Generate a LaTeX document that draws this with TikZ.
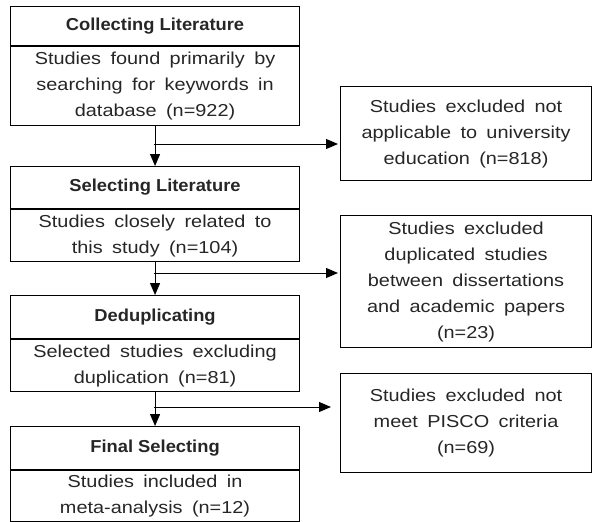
\documentclass[tikz,border=0pt]{standalone}
\usepackage{fontspec}
\setmainfont{Liberation Sans}
\newfontfamily\bodyfont{Liberation Sans}[FakeStretch=1.15,WordSpace=1.7]
\newfontfamily\headfont{Liberation Sans}[FakeStretch=1.06]
\usetikzlibrary{arrows.meta}
\begin{document}
\begin{tikzpicture}[x=1pt,y=-1pt,
  box/.style={draw=black, line width=1.1pt, inner sep=0pt, align=center,
    text=black!85, minimum width=289pt},
  headbox/.style={box, font=\headfont\bfseries\fontsize{17.3}{26}\selectfont},
  bodybox/.style={box, font=\bodyfont\fontsize{17.3}{26}\selectfont},
  sidebox/.style={draw=black, line width=1.1pt, inner sep=0pt, align=center,
    text=black!85, minimum width=251pt, font=\bodyfont\fontsize{17.3}{26}\selectfont},
  flow/.style={draw=black, line width=1pt, -{Triangle[length=12pt,width=10pt]}},
  branch/.style={draw=black, line width=1pt}
]
\useasboundingbox (0,0) rectangle (592,522);
% left column
\node[headbox, minimum height=39pt, anchor=north west] (h1) at (10,6) {Collecting Literature};
\node[bodybox, minimum height=79pt, anchor=north] (b1) at (h1.south) {Studies found primarily by\\searching for keywords in\\database (n=922)};
\node[headbox, minimum height=42pt, anchor=north west] (h2) at (10,166) {Selecting Literature};
\node[bodybox, minimum height=52pt, anchor=north] (b2) at (h2.south) {Studies closely related to\\this study (n=104)};
\node[headbox, minimum height=43pt, anchor=north west] (h3) at (10,295) {Deduplicating};
\node[bodybox, minimum height=52pt, anchor=north] (b3) at (h3.south) {Selected studies excluding\\duplication (n=81)};
\node[headbox, minimum height=43pt, anchor=north west] (h4) at (10,426) {Final Selecting};
\node[bodybox, minimum height=51pt, anchor=north] (b4) at (h4.south) {Studies included in\\meta-analysis (n=12)};
% right column
\node[sidebox, minimum height=94pt, anchor=north west] (r1) at (340,86) {Studies excluded not\\applicable to university\\education (n=818)};
\node[sidebox, minimum height=132pt, anchor=north west] (r2) at (340,215) {Studies excluded\\duplicated studies\\between dissertations\\and academic papers\\(n=23)};
\node[sidebox, minimum height=99pt, anchor=north west] (r3) at (340,373) {Studies excluded not\\meet PISCO criteria\\(n=69)};
% connectors
\draw[flow] (b1.south) -- (h2.north);
\draw[flow] (b2.south) -- (h3.north);
\draw[flow] (b3.south) -- (h4.north);
\coordinate (j1) at (154,144);
\coordinate (j2) at (154,273);
\coordinate (j3) at (154,407);
\draw[flow] (j1) -- ([xshift=-2pt]j1 -| r1.west);
\draw[flow] (j2) -- ([xshift=-2pt]j2 -| r2.west);
\draw[flow] (j3) -- ([xshift=-9pt]j3 -| r3.west);
\end{tikzpicture}
\end{document}
